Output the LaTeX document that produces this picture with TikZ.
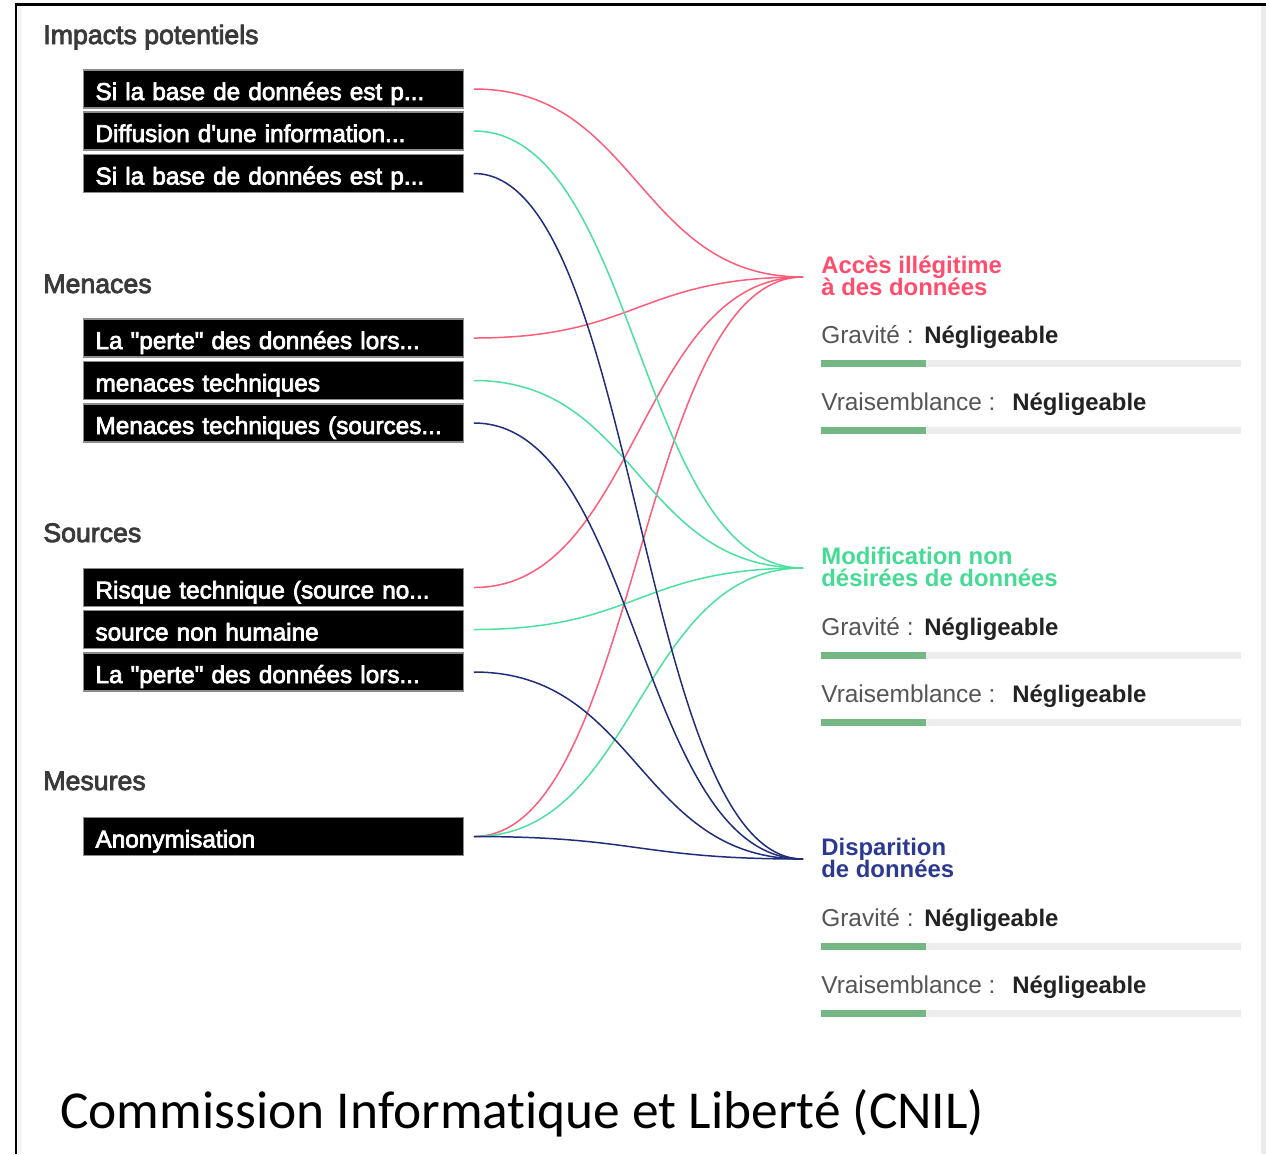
\documentclass[tikz,border=0pt]{standalone}
\usepackage{fontspec}
\setmainfont{Liberation Sans}
\newfontfamily\medfont{Liberation Sans}[FakeBold=3]
\newfontfamily\footfont{Carlito}[Ligatures=NoCommon]
\definecolor{secgray}{HTML}{3A3A3A}
\definecolor{lblgray}{HTML}{555555}
\definecolor{valdark}{HTML}{222222}
\definecolor{cred}{HTML}{FF5C7A}
\definecolor{cgreen}{HTML}{4CE0A0}
\definecolor{cblue}{HTML}{1F2D7A}
\definecolor{tred}{HTML}{FF4D6D}
\definecolor{tgreen}{HTML}{45DB95}
\definecolor{tblue}{HTML}{2B3990}
\definecolor{bargray}{HTML}{EDEDED}
\definecolor{bargreen}{HTML}{74B784}
\begin{document}
\begin{tikzpicture}[x=0.02cm,y=-0.02cm,
  sect/.style={anchor=base west, inner sep=0pt, text=secgray, font=\medfont\fontsize{15.2}{18}\selectfont},
  itembox/.style={anchor=west, fill=black, draw=black!45, line width=0.6pt, text=white,
     font=\medfont\fontsize{13.85}{16}\selectfont, text width=7.12cm, inner xsep=0.24cm, inner ysep=0pt,
     minimum height=0.76cm, text height=0.54cm, text depth=0.1cm, align=left},
  lbl/.style={anchor=base west, inner sep=0pt, text=lblgray, font=\fontsize{13.9}{16}\selectfont},
  val/.style={anchor=base west, inner sep=0pt, text=valdark, font=\bfseries\fontsize{13.6}{16}\selectfont},
  ttl/.style={anchor=base west, inner sep=0pt, font=\bfseries\fontsize{13.6}{16}\selectfont},
  link/.style={line width=0.85pt},
  bar/.style={line width=0.14cm, bargray},
  barfill/.style={line width=0.14cm, bargreen},
]
\useasboundingbox (0,0) rectangle (1266,1154);
\fill[white] (0,0) rectangle (1266,1154);
% frame
\fill[black!4] (18,6) rectangle (22,1154);
\fill[black!8] (1261,6) rectangle (1266,1154);
\draw[line width=1.7pt] (16,1154) -- (16,4) -- (1266,4);

% section titles
\node[sect] (tImp) at (43,44) {Impacts potentiels};
\node[sect] (tMen) at (43,293) {Menaces};
\node[sect] (tSrc) at (43,542) {Sources};
\node[sect] (tMes) at (43,790) {Mesures};

% boxes
\node[itembox] (i1) at (83,89) {Si la base de données est p...};
\node[itembox] (i2) at (83,131) {Diffusion d'une information...};
\node[itembox] (i3) at (83,173.5) {Si la base de données est p...};
\node[itembox] (m1) at (83,338) {La "perte" des données lors...};
\node[itembox] (m2) at (83,380.5) {menaces techniques};
\node[itembox] (m3) at (83,423) {Menaces techniques (sources...};
\node[itembox] (s1) at (83,587.5) {Risque technique (source no...};
\node[itembox] (s2) at (83,629.5) {source non humaine};
\node[itembox] (s3) at (83,672) {La "perte" des données lors...};
\node[itembox] (a1) at (83,836.5) {Anonymisation};

% connector ends
\foreach \n in {i1,i2,i3,m1,m2,m3,s1,s2,s3,a1}{
  \coordinate (\n o) at ([xshift=0.2cm]\n.east);
}
\coordinate (A) at (803,277);
\coordinate (M) at (803,568);
\coordinate (D) at (803,859);
\coordinate (cx) at (638,0);

% red links
\foreach \n in {i1,m1,s1,a1}{
  \draw[link,cred] (\n o) .. controls (cx |- \n o) and (cx |- A) .. (A);
}
% green links
\foreach \n in {i2,m2,s2,a1}{
  \draw[link,cgreen] (\n o) .. controls (cx |- \n o) and (cx |- M) .. (M);
}
% blue links
\foreach \n in {i3,m3,s3,a1}{
  \draw[link,cblue] (\n o) .. controls (cx |- \n o) and (cx |- D) .. (D);
}

% right blocks
\node[ttl,text=tred] (A1) at (821,273) {Accès illégitime};
\node[ttl,text=tred] (A2) at (821,295) {à des données};
\node[lbl] (Ag) at (821,343) {Gravité :};
\node[val] (Agv) at (924,343) {Négligeable};
\draw[bar] (821,363) -- (1241,363);
\draw[barfill] (821,363) -- (926,363);
\node[lbl] (Av) at (821,410) {Vraisemblance :};
\node[val] (Avv) at (1012,410) {Négligeable};
\draw[bar] (821,430.5) -- (1241,430.5);
\draw[barfill] (821,430.5) -- (926,430.5);

\node[ttl,text=tgreen] (M1) at (821,564) {Modification non};
\node[ttl,text=tgreen] (M2) at (821,586) {désirées de données};
\node[lbl] (Mg) at (821,635) {Gravité :};
\node[val] (Mgv) at (924,635) {Négligeable};
\draw[bar] (821,655) -- (1241,655);
\draw[barfill] (821,655) -- (926,655);
\node[lbl] (Mv) at (821,702) {Vraisemblance :};
\node[val] (Mvv) at (1012,702) {Négligeable};
\draw[bar] (821,722) -- (1241,722);
\draw[barfill] (821,722) -- (926,722);

\node[ttl,text=tblue] (D1) at (821,855) {Disparition};
\node[ttl,text=tblue] (D2) at (821,877) {de données};
\node[lbl] (Dg) at (821,926) {Gravité :};
\node[val] (Dgv) at (924,926) {Négligeable};
\draw[bar] (821,946) -- (1241,946);
\draw[barfill] (821,946) -- (926,946);
\node[lbl] (Dv) at (821,993) {Vraisemblance :};
\node[val] (Dvv) at (1012,993) {Négligeable};
\draw[bar] (821,1013) -- (1241,1013);
\draw[barfill] (821,1013) -- (926,1013);

% footer
\node[anchor=base west, inner sep=0pt, font=\footfont\fontsize{30.4}{36}\selectfont] (foot) at (60,1128) {Commission Informatique et Liberté (CNIL)};
\end{tikzpicture}
\end{document}
